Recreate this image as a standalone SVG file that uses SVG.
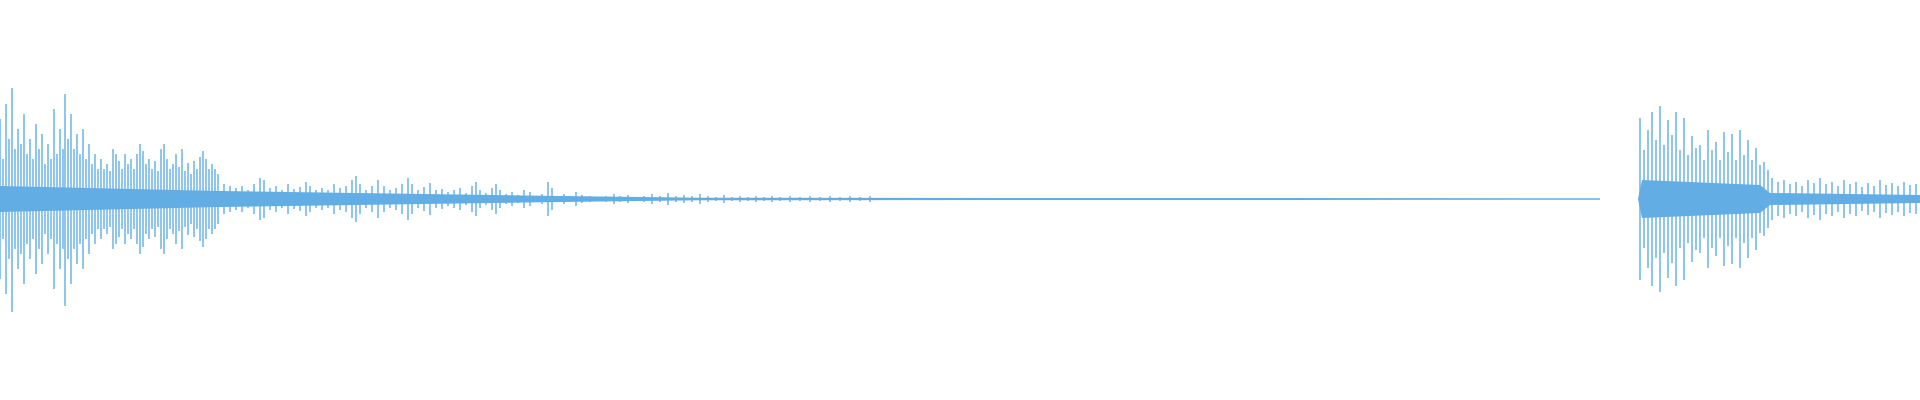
<svg xmlns="http://www.w3.org/2000/svg" width="1920" height="400" viewBox="0 0 1920 400">
<style>.w{stroke:#62ade4;stroke-width:1.4;fill:none}.f{fill:#62ade4}</style>
<rect width="1920" height="400" fill="#fff"/>
<g id="waveform">
<path class="f" d="M0,186 L220,191 L560,196 L700,197.8 L1600,198.3 L1600,199.7 L700,200.2 L560,202 L220,207 L0,212Z"/>
<path class="f" d="M1638,199 L1642,180 L1760,185 L1770,193 L1920,195 L1920,203 L1770,205 L1760,213 L1642,218Z"/>
<path class="w" d="M0,119V279M3,159V239M6,104V294M9,139V259M12,88V312M15,149V249M18,129V269M21,144V254M24,114V284M27,154V244M30,139V259M33,159V239M36,124V274M39,149V249M42,134V264M45,164V234M48,144V254M51,159V239M54,109V289M57,154V244M60,129V269M63,149V249M65,94V306M68,139V259M71,114V284M74,149V249M77,134V264M80,154V244M83,129V269M86,159V239M89,144V254M92,164V234M95,154V244M98,169V229M101,159V239M104,169V229M107,164V234M110,171V227M113,149V249M116,154V244M119,161V237M122,169V229M125,154V244M128,164V234M131,159V239M134,169V229M137,154V244M140,144V254M143,151V247M146,164V234M149,159V239M152,169V229M155,161V237M158,171V227M161,149V249M164,144V254M167,159V239M170,169V229M173,164V234M176,154V244M179,167V231M182,149V249M185,171V227M188,163V235M191,174V224M194,161V237M197,169V229M200,157V241M203,151V247M206,159V239M209,169V229M212,164V234M215,169V229M218,174V224"/>
<path class="w" d="M224,184V214M230,186V212M236,188V210M242,186V212M248,190V208M254,184V214M260,178V220M264,180V218M270,188V210M276,186V212M282,190V208M288,184V214M294,189V209M300,187V211M306,182V216M310,186V212M316,190V208M322,188V210M328,190V208M334,184V214M340,188V210M346,186V212M352,180V218M356,176V222M360,184V214M366,190V208M372,186V212M378,180V218M384,186V212M390,190V208M396,188V210M402,184V214M408,178V220M412,184V214M418,190V208M424,187V211M430,183V215M436,190V208M442,189V209M448,192V206M454,190V208M460,188V210M466,193V205M472,186V212M476,182V216M480,190V208M486,193V205M492,188V210M496,184V214M500,190V208M506,194V204M512,192V206M518,195V203M524,190V208M530,192V206M536,196V202M542,194V204M548,182V216M552,188V210M558,196V202M564,194V204M570,196V202M576,192V206M582,195V203M590,196V202M598,197V201M606,196V202M614,194V204M620,196V202M628,195V203M636,197V201M644,196V202M652,194V204M660,196V202M668,193V205M676,196V202M684,195V203M692,196V202M700,194V204M708,196V202M716,197V201M724,195V203M732,197V201M740,196V202M748,197V201M756,196V202M764,197V201M772,196V202M780,197V201M790,196V202M800,197V201M810,196V202M820,197V201M830,196V202M840,197V201M850,196V202M860,197V201M870,196V202"/>
<path class="w" d="M1640,118V280M1644,150V248M1648,130V268M1652,112V286M1656,140V258M1660,106V292M1664,145V253M1668,120V278M1672,135V263M1676,112V286M1680,150V248M1684,118V280M1688,155V243M1692,136V262M1696,148V250M1700,145V253M1704,160V238M1708,130V268M1712,150V248M1716,142V256M1720,160V238M1724,132V266M1728,152V246M1732,134V264M1736,160V238M1740,130V268M1744,155V243M1748,140V258M1752,160V238M1756,148V250M1760,165V233M1764,162V236M1768,170V228M1772,178V220M1778,182V216M1784,180V218M1790,184V214M1796,182V216M1802,186V212M1808,180V218M1814,183V215M1820,178V220M1826,184V214M1832,182V216M1838,186V212M1844,180V218M1850,184V214M1856,182V216M1862,187V211M1868,183V215M1874,186V212M1880,180V218M1886,185V213M1892,183V215M1898,186V212M1904,182V216M1910,185V213M1916,184V214"/>
</g>
</svg>
